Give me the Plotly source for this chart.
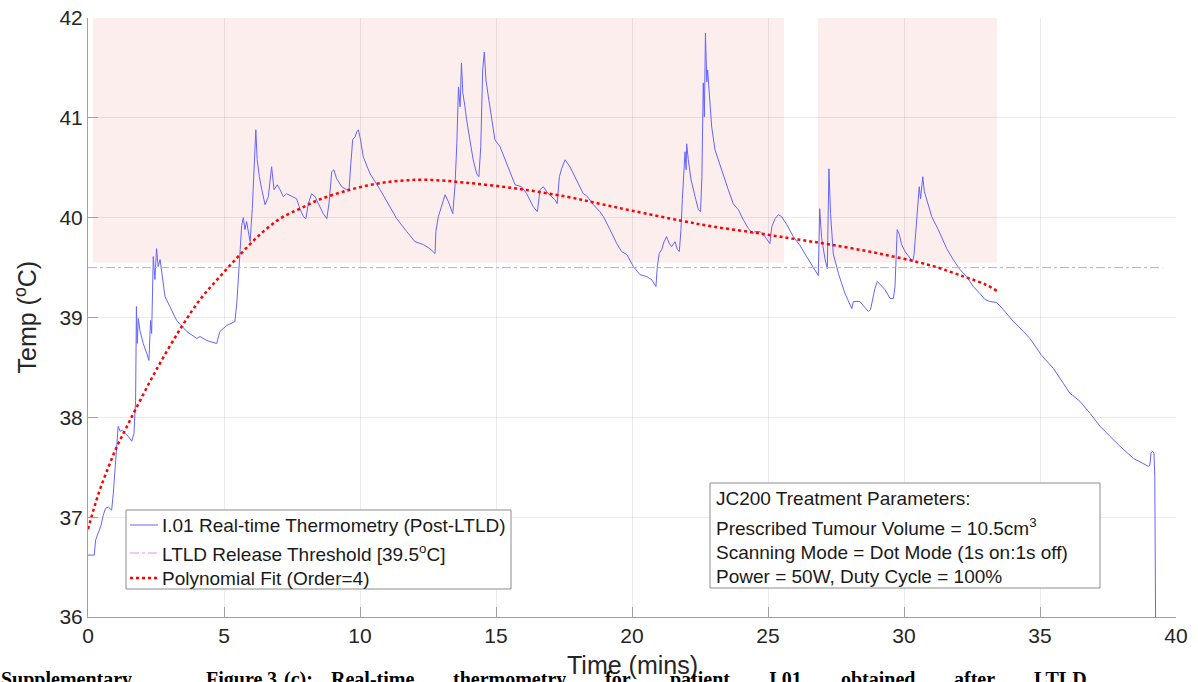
import plotly.graph_objects as go

# ---------------- data ----------------
time_min = [0.0, 0.23, 0.28, 0.38, 0.48, 0.56, 0.65, 0.75, 0.87, 0.93, 1.00, 1.05, 1.11, 1.18, 1.26, 1.36,
            1.48, 1.61, 1.69, 1.75, 1.78, 1.81, 1.85, 1.91, 2.03, 2.16, 2.24, 2.30, 2.34, 2.40, 2.46, 2.52,
            2.58, 2.65, 2.83, 3.01, 3.26, 3.63, 4.00, 4.12, 4.36, 4.73, 4.85, 5.10, 5.40, 5.47, 5.53, 5.59,
            5.65, 5.71, 5.77, 5.83, 5.96, 6.04, 6.10, 6.17, 6.22, 6.30, 6.39, 6.51, 6.63, 6.69, 6.75, 6.84,
            6.96, 7.06, 7.18, 7.30, 7.49, 7.67, 7.79, 7.92, 8.01, 8.10, 8.22, 8.35, 8.47, 8.65, 8.78, 8.86,
            8.96, 9.04, 9.14, 9.33, 9.51, 9.60, 9.66, 9.73, 9.82, 9.88, 9.94, 10.02, 10.12, 10.37, 10.74,
            11.10, 11.35, 11.72, 12.02, 12.33, 12.57, 12.76, 12.79, 12.88, 13.00, 13.13, 13.25, 13.41, 13.49,
            13.56, 13.62, 13.68, 13.73, 13.78, 13.86, 13.92, 14.04, 14.16, 14.29, 14.37, 14.44, 14.51, 14.57,
            14.63, 14.72, 14.84, 14.96, 15.15, 15.39, 15.58, 15.70, 15.94, 16.13, 16.37, 16.52, 16.62, 16.74,
            16.92, 17.17, 17.25, 17.33, 17.41, 17.54, 17.72, 17.97, 18.21, 18.33, 18.58, 18.82, 18.95, 19.19,
            19.44, 19.62, 19.81, 20.05, 20.29, 20.54, 20.72, 20.88, 20.93, 21.00, 21.09, 21.18, 21.27, 21.37,
            21.46, 21.58, 21.67, 21.74, 21.80, 21.85, 21.91, 21.95, 21.99, 22.01, 22.07, 22.17, 22.32, 22.44,
            22.52, 22.57, 22.62, 22.66, 22.70, 22.75, 22.78, 22.84, 22.93, 23.05, 23.17, 23.36, 23.54, 23.72,
            23.91, 24.09, 24.28, 24.44, 24.52, 24.71, 24.89, 25.07, 25.14, 25.26, 25.38, 25.50, 25.69, 25.93,
            26.18, 26.42, 26.67, 26.85, 26.90, 26.97, 27.10, 27.18, 27.24, 27.30, 27.40, 27.59, 27.83, 28.08,
            28.14, 28.38, 28.50, 28.69, 28.77, 28.85, 28.93, 29.02, 29.12, 29.30, 29.49, 29.61, 29.67, 29.71,
            29.75, 29.83, 29.91, 30.04, 30.22, 30.32, 30.37, 30.43, 30.49, 30.56, 30.61, 30.69, 30.75, 30.83,
            31.02, 31.26, 31.57, 31.81, 32.06, 32.30, 32.55, 32.79, 32.98, 33.16, 33.41, 33.65, 34.02, 34.39,
            34.63, 35.06, 35.49, 35.86, 36.10, 36.20, 36.47, 36.84, 37.21, 37.57, 37.94, 38.43, 38.98, 39.04,
            39.08, 39.14, 39.19, 39.22, 39.26]
temp_c = [36.62, 36.62, 36.77, 36.84, 36.92, 37.02, 37.09, 37.10, 37.07, 37.24, 37.47, 37.71, 37.91, 37.86, 37.87, 37.84,
          37.81, 37.76, 37.84, 38.17, 39.11, 38.74, 38.99, 38.87, 38.74, 38.64, 38.57, 38.97, 38.84, 39.61, 39.38, 39.69,
          39.51, 39.58, 39.21, 39.11, 38.97, 38.86, 38.79, 38.81, 38.77, 38.74, 38.86, 38.92, 38.96, 39.14, 39.40, 39.75,
          39.92, 40.00, 39.88, 39.96, 39.76, 40.09, 40.48, 40.88, 40.58, 40.41, 40.28, 40.13, 40.21, 40.34, 40.51, 40.28,
          40.33, 40.28, 40.21, 40.24, 40.21, 40.19, 40.09, 40.01, 39.99, 40.14, 40.24, 40.21, 40.14, 40.04, 39.99, 40.14,
          40.46, 40.48, 40.39, 40.31, 40.28, 40.29, 40.53, 40.78, 40.81, 40.86, 40.88, 40.78, 40.61, 40.44, 40.28,
          40.11, 39.99, 39.86, 39.76, 39.73, 39.69, 39.64, 39.86, 40.01, 40.11, 40.23, 40.16, 40.04, 40.31,
          40.74, 41.31, 41.11, 41.55, 41.25, 41.11, 40.98, 40.78, 40.58, 40.44, 40.41, 40.71, 41.48, 41.66,
          41.38, 41.21, 40.98, 40.78, 40.71, 40.54, 40.41, 40.33, 40.31, 40.24, 40.11, 40.06, 40.28, 40.31,
          40.24, 40.18, 40.14, 40.41, 40.49, 40.58, 40.51, 40.38, 40.24, 40.22, 40.13, 40.06, 40.01, 39.88,
          39.74, 39.66, 39.63, 39.51, 39.43, 39.41, 39.38, 39.31, 39.51, 39.64, 39.68, 39.76, 39.81, 39.74,
          39.71, 39.76, 39.68, 39.66, 39.88, 40.18, 40.51, 40.66, 40.48, 40.74, 40.58, 40.38, 40.21, 40.08,
          40.06, 40.41, 41.35, 41.01, 41.85, 41.36, 41.48, 41.21, 40.91, 40.68, 40.58, 40.41, 40.28, 40.14,
          40.08, 39.98, 39.89, 39.84, 39.86, 39.86, 39.81, 39.74, 39.91, 39.99, 40.03, 40.01, 39.93, 39.81,
          39.72, 39.61, 39.50, 39.42, 40.09, 39.80, 39.58, 39.49, 40.49, 40.04, 39.64, 39.44, 39.24, 39.09,
          39.16, 39.16, 39.12, 39.06, 39.08, 39.18, 39.29, 39.36, 39.33, 39.28, 39.19, 39.19, 39.31, 39.61,
          39.88, 39.83, 39.73, 39.66, 39.59, 39.56, 39.63, 39.84, 40.11, 40.31, 40.19, 40.41, 40.26, 40.18,
          40.01, 39.88, 39.69, 39.58, 39.48, 39.41, 39.31, 39.24, 39.18, 39.16, 39.15, 39.08, 38.96, 38.86,
          38.79, 38.62, 38.49, 38.34, 38.24, 38.22, 38.16, 38.04, 37.91, 37.81, 37.71, 37.59, 37.51, 37.52,
          37.64, 37.66, 37.64, 37.41, 35.50]

fit_time = [0.0, 0.38, 0.75, 1.05, 1.36, 1.73, 2.5, 3.38, 4.12, 4.85, 5.59, 6.32, 7.06, 7.79, 8.5, 9.5,
            10.6, 11.5, 12.4, 13.9, 15.8, 17.6, 18.8, 20.0, 21.8, 23.0, 24.5, 25.9, 27.3, 29.1, 31.0,
            32.2, 33.0, 33.45]
fit_temp = [36.88, 37.23, 37.50, 37.70, 37.87, 38.07, 38.47, 38.88, 39.18, 39.41, 39.63, 39.83, 39.99, 40.09,
            40.18, 40.27, 40.34, 40.37, 40.38, 40.35, 40.29, 40.21, 40.14, 40.07, 39.97, 39.91, 39.85, 39.79,
            39.73, 39.64, 39.52, 39.41, 39.33, 39.26]

threshold_temp = 39.5
threshold_span = [0.0, 39.5]

shade_start = [0.18, 26.84]
shade_end = [25.59, 33.42]
shade_floor = 39.55
shade_top = 42.0

x_ticks = [0, 5, 10, 15, 20, 25, 30, 35, 40]
y_ticks = [36, 37, 38, 39, 40, 41, 42]

series_names = ["I.01 Real-time Thermometry (Post-LTLD)",
                "LTLD Release Threshold [39.5<sup>o</sup>C]",
                "Polynomial Fit (Order=4)"]
param_lines = ["JC200 Treatment Parameters:",
               "Prescribed Tumour Volume = 10.5cm<sup>3</sup>",
               "Scanning Mode = Dot Mode (1s on:1s off)",
               "Power = 50W, Duty Cycle = 100%"]
caption_words = ["Supplementary", "Figure", "3", "(c):", "Real-time", "thermometry", "for",
                 "patient", "I.01", "obtained", "after", "LTLD"]

# ---------------- figure ----------------
FONT = "Liberation Sans, Arial, Helvetica, sans-serif"
W, H = 1198, 682
ML, MR, MT, MB = 88, 22, 18, 65
PW, PH = W - ML - MR, H - MT - MB


def px(xp):
    return (xp - ML) / PW


def py(yp):
    return (H - MB - yp) / PH


styles = [dict(color="#6464ff", width=1),
          dict(color="#f08cf0", width=1, dash="dashdot"),
          dict(color="#ff0000", width=2.5, dash="dot")]

fig = go.Figure()
fig.add_trace(go.Scatter(x=time_min, y=temp_c, mode="lines", line=styles[0], name=series_names[0]))
fig.add_trace(go.Scatter(x=threshold_span, y=[threshold_temp, threshold_temp], mode="lines",
                         line=styles[1], name=series_names[1]))
fig.add_trace(go.Scatter(x=fit_time, y=fit_temp, mode="lines", line_shape="spline",
                         line=styles[2], name=series_names[2]))

for s, e in zip(shade_start, shade_end):
    fig.add_shape(type="rect", xref="x", yref="y", x0=s, x1=e, y0=shade_floor, y1=shade_top,
                  fillcolor="#fdeeee", line=dict(width=0), layer="below")

# legend box (drawn manually to match the original's compact layout)
fig.add_shape(type="rect", xref="paper", yref="paper", x0=px(126), x1=px(511), y0=py(589), y1=py(510),
              fillcolor="white", line=dict(color="#8c8c8c", width=1), layer="above")
for name, st, yy in zip(series_names, styles, [525, 553, 578]):
    fig.add_shape(type="line", xref="paper", yref="paper", x0=px(130), x1=px(158), y0=py(yy), y1=py(yy),
                  line=st, layer="above")
    fig.add_annotation(text=name, xref="paper", yref="paper", x=px(160), y=py(yy), xanchor="left",
                       yanchor="middle", showarrow=False, font=dict(family=FONT, size=19, color="#1a1a1a"))

# parameter box
fig.add_shape(type="rect", xref="paper", yref="paper", x0=px(710), x1=px(1100), y0=py(588), y1=py(483),
              fillcolor="white", line=dict(color="#8c8c8c", width=1), layer="above")
for txt, yy in zip(param_lines, [498, 527, 552, 576]):
    fig.add_annotation(text=txt, xref="paper", yref="paper", x=px(714), y=py(yy), xanchor="left",
                       yanchor="middle", showarrow=False, font=dict(family=FONT, size=19, color="#1a1a1a"))

# axis titles
fig.add_annotation(text="Time (mins)", xref="paper", yref="paper", x=0.5, y=py(665), xanchor="center",
                   yanchor="middle", showarrow=False, font=dict(family=FONT, size=25, color="#262626"))
fig.add_annotation(text="Temp (<sup>o</sup>C)", xref="paper", yref="paper", x=px(25), y=0.5,
                   xanchor="center", yanchor="middle", textangle=-90, showarrow=False,
                   font=dict(family=FONT, size=25, color="#262626"))

# caption (first line of the page caption, cut off at the bottom edge)
caption_x = [0, 205, 266, 283, 330, 452, 604, 669, 768, 840, 953, 1033]
for word, xx in zip(caption_words, caption_x):
    fig.add_annotation(text="<b>" + word + "</b>", xref="paper", yref="paper", x=px(xx), y=py(667),
                       xanchor="left", yanchor="top", showarrow=False, borderpad=0,
                       font=dict(family="Liberation Serif, Times New Roman, serif", size=20, color="black"))

axis_common = dict(showgrid=True, gridcolor="rgba(0,0,0,0.08)", gridwidth=1, zeroline=False,
                   showline=True, linecolor="#a0a0a0", linewidth=1, ticks="inside", ticklen=10,
                   tickcolor="#a0a0a0", automargin=False,
                   tickfont=dict(family=FONT, size=21, color="#262626"))

fig.update_layout(
    width=W, height=H,
    margin=dict(l=ML, r=MR, t=MT, b=MB),
    paper_bgcolor="white", plot_bgcolor="white",
    showlegend=False,
    xaxis=dict(range=[0, 40], tickvals=x_ticks, **axis_common),
    yaxis=dict(range=[36, 42], tickvals=y_ticks, **axis_common),
)

fig.write_html("out.html")
